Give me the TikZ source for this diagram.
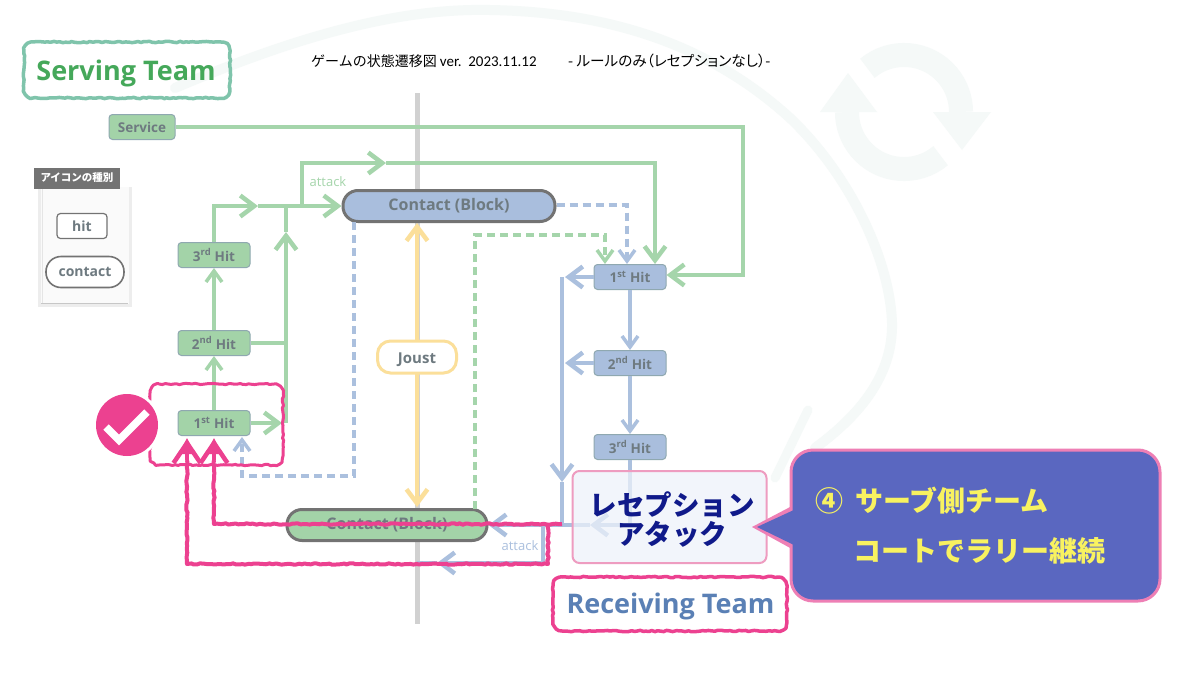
\documentclass[tikz,border=0pt]{standalone}
\usepackage{fontspec}
\setmainfont{Open Sans}
\newfontfamily\jp{Noto Sans CJK JP}
\newfontfamily\jpp[RawFeature=+palt]{Noto Sans CJK JP}
\newfontfamily\car{Carlito}
\usetikzlibrary{arrows.meta,decorations.pathmorphing}
\definecolor{gline}{HTML}{A5D5AB}
\definecolor{bline}{HTML}{ABC0DE}
\definecolor{gfill}{HTML}{A3D3A8}
\definecolor{bfill}{HTML}{A9BEDD}
\definecolor{nedge}{HTML}{8FA8B0}
\definecolor{ntext}{HTML}{6E7A80}
\definecolor{pinkm}{HTML}{EC4190}
\definecolor{faint}{HTML}{F5F9F8}
\definecolor{yel}{HTML}{FBDF9A}
\definecolor{sgreen}{RGB}{69,168,90}
\definecolor{sedge}{RGB}{127,196,171}
\definecolor{rblue}{RGB}{90,128,181}
\definecolor{cpink}{RGB}{238,127,181}
\definecolor{cfill}{RGB}{90,103,192}
\definecolor{cyel}{RGB}{248,242,96}
\definecolor{recfill}{HTML}{EEF2FA}
\definecolor{recedge}{HTML}{EE9CC0}
\definecolor{navy2}{HTML}{101A8A}
\newcommand{\roughbox}[5]{% style, x1, y1, x2, y2
  \draw[#1] ({#2+9},#3) -- ({#4-9},#3) arc (90:0:9pt) -- (#4,{#5-9}) arc (0:-90:9pt) -- ({#2+9},#5) arc (-90:-180:9pt) -- (#2,{#3+9}) arc (180:90:9pt) -- cycle;}
\tikzset{
  x=1pt,y=-1pt,
  hitbox/.style={draw=nedge,line width=1pt,rounded corners=3.5pt,minimum width=72pt,minimum height=25pt,inner sep=0pt,font=\bfseries\fontsize{13.5}{15}\selectfont,text=ntext},
  gbox/.style={hitbox,fill=gfill},
  bbox/.style={hitbox,fill=bfill},
  contactbox/.style={draw=black!55,line width=3pt,rounded corners=15pt,inner sep=0pt,minimum height=31pt,font=\bfseries\fontsize{16}{18}\selectfont,text=ntext},
  gl/.style={draw=gline,line width=4.6pt},
  gt/.style={draw=gline,line width=3.8pt},
  bl/.style={draw=bline,line width=4.8pt},
  bt/.style={draw=bline,line width=3.6pt},
  bigg/.style={-{Straight Barb[length=14pt,width=21pt,line width=4.5pt]}},
  smallb/.style={-{Straight Barb[length=11pt,width=16pt,line width=3.5pt]}},
  dashg/.style={draw=gline,line width=3.2pt,dash pattern=on 8pt off 5pt},
  dashb/.style={draw=bline,line width=3.2pt,dash pattern=on 8pt off 5pt},
  rough/.style={decorate,decoration={random steps,segment length=3pt,amplitude=0.7pt},line join=round},
  pinkl/.style={draw=pinkm,line width=4pt,rough},
  pinktip/.style={-{Straight Barb[length=20pt,width=27pt,line width=4.5pt]}},
  labelt/.style={inner sep=0pt,font=\fontsize{13}{15}\selectfont}
}
\pgfmathsetseed{7}
\begin{document}
\begin{tikzpicture}
\useasboundingbox (0,0) rectangle (1200,675);
\fill[white] (0,0) rectangle (1200,675);
% faint background swirl
\draw[faint,line width=10pt,line cap=round] (175,88) .. controls (300,35) and (400,8) .. (490,10) .. controls (610,12) and (710,45) .. (790,118) .. controls (850,175) and (890,260) .. (892,323) .. controls (893,375) and (860,415) .. (815,448);
\draw[faint,line width=9pt,line cap=round] (808,410) -- (775,478);
\draw[faint,line width=24pt] (867.4,68.3) arc (130:0:57pt);
\draw[faint,line width=24pt] (940.6,155.7) arc (310:180:57pt);
\fill[faint] (933,112) -- (991,112) -- (962,150) -- cycle;
\fill[faint] (820,112) -- (877,112) -- (848,73) -- cycle;
% central axis
\coordinate (axT) at (417,93); \coordinate (axB) at (417,624);
\draw[black!18,line width=5pt] (axT) -- (axB);
% title
\node[anchor=west,inner sep=0pt,font=\jp\fontsize{14}{16}\selectfont] (title1) at (311,61) {ゲームの状態遷移図 {\car\fontsize{15}{16}\selectfont ver.\ \ 2023.11.12}};
\node[anchor=west,inner sep=0pt,font=\jpp\fontsize{14.6}{16}\selectfont] (title2) at (568,61) {- ルールのみ（レセプションなし）-};
% legend
\fill[black!7] (38,187) rectangle (132,307);
\fill[black!2] (41,187) rectangle (129,304);
\draw[black!22,line width=1pt] (41,303) -- (128,303);
\draw[black!10,line width=1pt] (42,187) -- (42,303);
\node[fill=black!55,text=white,minimum width=86pt,minimum height=21pt,inner sep=0pt,font=\jp\bfseries\fontsize{10.5}{12}\selectfont] (legend) at (77,178) {アイコンの種別};
\node[draw=black!55,fill=white,line width=1.2pt,rounded corners=3.5pt,minimum width=50pt,minimum height=25pt,inner sep=0pt,font=\bfseries\fontsize{14}{16}\selectfont,text=ntext] (lhit) at (82,226) {hit};
\node[draw=black!55,fill=white,line width=1.6pt,rounded corners=15pt,minimum width=78pt,minimum height=31pt,inner sep=0pt,font=\bfseries\fontsize{14}{16}\selectfont,text=ntext] (lcontact) at (85,272) {contact};
% nodes
\node[gbox,minimum width=66pt] (svc) at (142,127) {Service};
\node[gbox] (g3) at (214,255) {3\textsuperscript{rd} Hit};
\node[gbox] (g2) at (214,343) {2\textsuperscript{nd} Hit};
\node[gbox] (g1) at (214,423) {1\textsuperscript{st} Hit};
\node[bbox] (b1) at (630,277) {1\textsuperscript{st} Hit};
\node[bbox] (b2) at (630,363) {2\textsuperscript{nd} Hit};
\node[bbox] (b3) at (630,447) {3\textsuperscript{rd} Hit};
\node[contactbox,fill=bfill,minimum width=212pt] (ctop) at (449,206) {Contact (Block)};
\node[contactbox,fill=gfill,minimum width=200pt] (cbot) at (387,525) {Contact (Block)};
% green connectors
\coordinate (svcA) at (743,127); \coordinate (svcB) at (743,275);
\draw[gl,bigg] (svc.east) -- (svcA) -- (svcB) -- (b1.east |- svcB);
\draw[gt,smallb] (g1.north) -- (g2.south);
\draw[gt,smallb] (g2.north) -- (g3.south);
\coordinate (g3up) at (214,206); \coordinate (m1) at (258,206);
\draw[gl,bigg] (g3.north) -- (g3up) -- (m1);
\draw[gl,bigg] (m1) -- (ctop.west);
\coordinate (j1) at (286,423); \coordinate (j1m) at (286,232); \coordinate (j1t) at (286,206);
\coordinate (g1r) at (282,423); \coordinate (g2r) at (284,343);
\draw[gl,bigg] (g1.east) -- (g1r);
\draw[gl] (g2.east) -- (g2r);
\draw[gl,bigg] (j1) -- (j1m);
\draw[gl] (j1m) -- (j1t);
\coordinate (a0) at (302,206); \coordinate (a1) at (302,163); \coordinate (a2) at (386,163); \coordinate (a3) at (655,163);
\draw[gl,bigg] (a0) -- (a1) -- (a2);
\draw[gl,bigg] (a2) -- (a3) -- (a3 |- b1.north);
\node[labelt,text=gline] (attackg) at (328,182) {attack};
% joust
\draw[draw=yel,line width=4.5pt,{Straight Barb[length=14pt,width=21pt,line width=4.5pt]}-{Straight Barb[length=14pt,width=21pt,line width=4.5pt]}] (417,223) -- (417,507);
\node[draw=yel,fill=white,line width=3pt,rounded corners=13pt,minimum width=79pt,minimum height=32pt,inner sep=0pt,text height=13pt,text depth=0pt,font=\bfseries\fontsize{15}{17}\selectfont,text=ntext] (joust) at (417,357) {Joust};
% dashed
\coordinate (d1) at (627,205);
\draw[dashb,smallb] (ctop.east |- d1) -- (d1) -- (d1 |- b1.north);
\coordinate (d2) at (475,509); \coordinate (d3) at (475,235); \coordinate (d4) at (605,235);
\draw[dashg,smallb] (d2) -- (d3) -- (d4) -- (d4 |- b1.north);
\coordinate (d5) at (354,222); \coordinate (d6) at (354,476); \coordinate (d7) at (242,476); \coordinate (d8) at (242,437);
\draw[dashb,smallb] (d5) -- (d6) -- (d7) -- (d8);
% blue connectors
\coordinate (bv) at (562,277); \coordinate (bmm) at (562,462); \coordinate (bm) at (562,482); \coordinate (bb) at (562,525);
\draw[bt,smallb] (b1.south) -- (b2.north);
\draw[bt,smallb] (b2.south) -- (b3.north);
\draw[bl] (bv) -- (bmm);
\draw[bl,bigg] (bmm) -- (bm);
\draw[bl] (bm) -- (bb);
\draw[bl,bigg] (b1.west) -- (565,277);
\draw[bl,bigg] (b2.west) -- (565,363);
\coordinate (b3d) at (630,525); \coordinate (bm2) at (590,525);
\draw[bt,bigg] (b3.south) -- (b3d) -- (bm2);
\draw[bt] (bm2) -- (bb);
\draw[bt,bigg] (bb) -- (cbot.east);
\coordinate (cc1) at (543,525); \coordinate (cc2) at (543,563); \coordinate (cc3) at (437,563);
\draw[bt,bigg] (cc1) -- (cc2) -- (cc3);
\draw[bt] (cc3) -- (417,563);
\node[labelt,text=bline] (attackb) at (520,546) {attack};
% reception
\node[draw=recedge,fill=recfill,fill opacity=0.72,line width=2pt,rounded corners=7pt,minimum width=194pt,minimum height=92pt,inner sep=0pt] (recv) at (669.5,517) {};
\node[align=center,inner sep=0pt,text=navy2,font=\jp\bfseries\fontsize{27.5}{29}\selectfont] (recvt) at (672,520) {レセプション\\アタック};
% pink overlay
\coordinate (p0) at (562,524); \coordinate (p1) at (214,524); \coordinate (p2) at (214,460); \coordinate (p3) at (214,439);
\coordinate (q0) at (548,524); \coordinate (q1) at (548,564); \coordinate (q2) at (187,564); \coordinate (q3) at (187,460); \coordinate (q4) at (187,439);
\draw[pinkl] (p0) -- (p1) -- (p2);
\draw[pinkl] (q0) -- (q1) -- (q2) -- (q3);
\draw[draw=pinkm,line width=4.5pt,pinktip] (p2) -- (p3);
\draw[draw=pinkm,line width=4.5pt,pinktip] (q3) -- (q4);
\fill[pinkm] (214,438) -- (206,454) -- (222,454) -- cycle;
\fill[pinkm] (187,438) -- (179,454) -- (195,454) -- cycle;
\roughbox{pinkl,line width=3pt}{150}{384}{283}{465}
\fill[white] (127,425) circle (34pt);
\node[circle,fill=pinkm,minimum size=62pt,inner sep=0pt] (chk) at (127,425) {};
\coordinate (c1) at (106,427); \coordinate (c2) at (119,440); \coordinate (c3) at (147,412);
\draw[white,line width=7.5pt] (c1) -- (c2) -- (c3);
% team labels
\node[inner sep=0pt,text=sgreen,font=\bfseries\fontsize{27}{30}\selectfont] (serving) at (126,73) {Serving Team};
\roughbox{draw=sedge,line width=3.5pt,rough}{24}{42}{230}{98}
\node[inner sep=0pt,font=\bfseries\fontsize{27}{30}\selectfont,text=rblue] (receiving) at (670.5,606) {Receiving Team};
\roughbox{pinkl,line width=3.5pt}{553}{577}{787}{631}
% callout
\coordinate (tip) at (752,527);
\fill[cpink] (tip) -- (792,506) -- (792,549) -- cycle;
\draw[draw=cpink,fill=cfill,line width=3pt,rounded corners=22pt] (791,450) rectangle (1160,601);
\fill[cfill] (757,527) -- (796,509) -- (796,546) -- cycle;
\node[anchor=west,inner sep=0pt,text=cyel,font=\jp\bfseries\fontsize{28}{32}\selectfont] (call1) at (815,501) {④\hspace{12pt}サーブ側チーム};
\node[anchor=west,inner sep=0pt,text=cyel,font=\jp\bfseries\fontsize{28}{32}\selectfont] (call2) at (853,551) {コートでラリー継続};
\end{tikzpicture}
\end{document}
